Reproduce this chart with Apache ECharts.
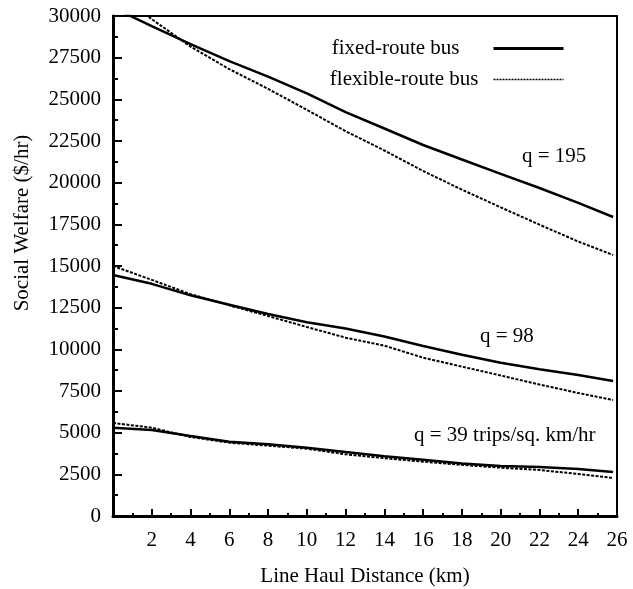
<!DOCTYPE html>
<html>
<head>
<meta charset="utf-8">
<script src="https://cdn.jsdelivr.net/npm/echarts@6/dist/echarts.min.js"></script>
<style>
  html, body { margin: 0; padding: 0; background: #fff; }
  #chart { width: 633px; height: 589px; }
</style>
</head>
<body>
<div id="chart"></div>
<script>
  // line haul distance (km)
  const distances = [0, 2, 4, 6, 8, 10, 12, 14, 16, 18, 20, 22, 24, 25.8];
  // social welfare ($/hr)
  const fixed195 = [30500, 29390, 28310, 27290, 26360, 25360, 24230, 23250, 22260, 21390, 20530, 19680, 18790, 17940];
  const flex195 = [31600, 29810, 28165, 26810, 25630, 24370, 23090, 21930, 20700, 19580, 18520, 17480, 16470, 15660];
  const fixed98 = [14460, 13930, 13240, 12680, 12120, 11630, 11250, 10770, 10200, 9680, 9190, 8800, 8460, 8100];
  const flex98 = [15000, 14170, 13310, 12640, 12000, 11340, 10700, 10220, 9500, 8960, 8430, 7890, 7380, 6960];
  const fixed39 = [5300, 5160, 4800, 4460, 4300, 4100, 3840, 3590, 3380, 3150, 3000, 2940, 2820, 2640];
  const flex39 = [5580, 5300, 4740, 4400, 4220, 4040, 3700, 3470, 3260, 3070, 2900, 2760, 2520, 2280];

  const FIXED = 'fixed-route bus';
  const FLEX = 'flexible-route bus';
  const font = 'Liberation Serif';

  function pairs(vals) {
    return distances.map((d, i) => [d, vals[i]]);
  }

  function fixedSeries(vals) {
    return {
      name: FIXED,
      type: 'line',
      symbol: 'none',
      data: pairs(vals),
      lineStyle: { color: '#000', width: 2.5 },
      itemStyle: { color: '#000' }
    };
  }

  function flexSeries(vals) {
    return {
      name: FLEX,
      type: 'line',
      symbol: 'none',
      data: pairs(vals),
      lineStyle: { color: '#000', width: 2, type: [3, 1.5] },
      itemStyle: { color: '#000' }
    };
  }

  const chart = echarts.init(document.getElementById('chart'));
  chart.setOption({
    animation: false,
    backgroundColor: '#fff',
    grid: {
      left: 113,
      top: 16,
      right: 16,
      bottom: 73,
      outerBoundsMode: 'none',
      show: true,
      borderColor: '#000',
      borderWidth: 2
    },
    legend: {
      orient: 'vertical',
      align: 'right',
      right: 63,
      top: 33,
      itemWidth: 70,
      itemHeight: 14,
      itemGap: 10,
      itemStyle: { opacity: 0 },
      textStyle: { fontFamily: font, fontSize: 21, color: '#000' },
      data: [
        { name: FIXED, textStyle: { padding: [0, 29, 0, 0] }, lineStyle: { width: 3 } },
        { name: FLEX, textStyle: { padding: [0, 10, 0, 0] }, lineStyle: { width: 1.5, type: [2, 1] } }
      ]
    },
    xAxis: {
      type: 'value',
      min: 0,
      max: 26,
      interval: 2,
      name: 'Line Haul Distance (km)',
      nameLocation: 'middle',
      nameGap: 50,
      nameTextStyle: { fontFamily: font, fontSize: 21, color: '#000' },
      axisLine: { lineStyle: { color: '#000', width: 3 } },
      axisTick: { inside: true, length: 7, lineStyle: { color: '#000', width: 2 } },
      minorTick: { show: true, splitNumber: 2, length: 3, lineStyle: { color: '#000', width: 2 } },
      splitLine: { show: false },
      axisLabel: {
        margin: 14,
        fontFamily: font,
        fontSize: 21,
        color: '#000',
        formatter: v => (v === 0 ? '' : String(v))
      }
    },
    yAxis: {
      type: 'value',
      min: 0,
      max: 30000,
      interval: 2500,
      name: 'Social Welfare ($/hr)',
      nameLocation: 'middle',
      nameGap: 80,
      nameTextStyle: { fontFamily: font, fontSize: 21, color: '#000', padding: [0, 0, 0, 86] },
      axisLine: { lineStyle: { color: '#000', width: 3 } },
      axisTick: { inside: true, length: 9, lineStyle: { color: '#000', width: 2 } },
      minorTick: { show: true, splitNumber: 2, length: 5, lineStyle: { color: '#000', width: 2 } },
      splitLine: { show: false },
      axisLabel: { margin: 12, fontFamily: font, fontSize: 21, color: '#000', formatter: v => String(v) }
    },
    graphic: [
      { type: 'text', left: 522, top: 146, style: { text: 'q = 195', font: '21px "Liberation Serif"', fill: '#000' } },
      { type: 'text', left: 480, top: 326, style: { text: 'q = 98', font: '21px "Liberation Serif"', fill: '#000' } },
      { type: 'text', left: 414, top: 425, style: { text: 'q = 39 trips/sq. km/hr', font: '21px "Liberation Serif"', fill: '#000' } }
    ],
    series: [
      fixedSeries(fixed195),
      flexSeries(flex195),
      fixedSeries(fixed98),
      flexSeries(flex98),
      fixedSeries(fixed39),
      flexSeries(flex39)
    ]
  });
</script>
</body>
</html>
